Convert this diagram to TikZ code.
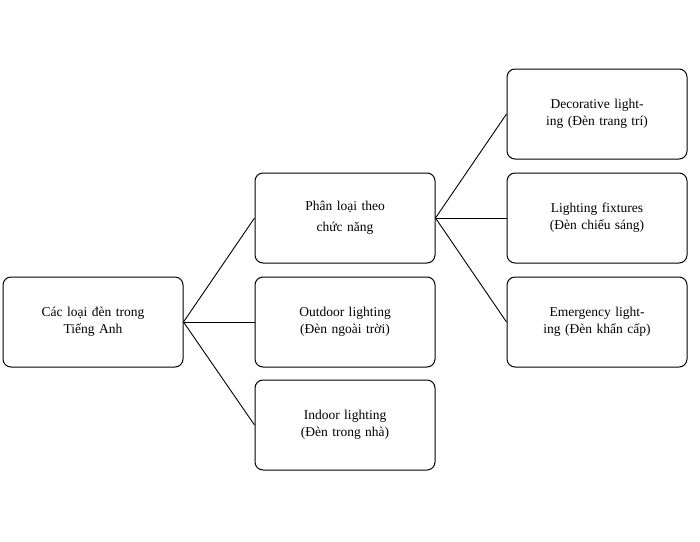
\documentclass[tikz,border=0pt]{standalone}
\usepackage{fontspec}
\setmainfont{Liberation Serif}
\begin{document}
\begin{tikzpicture}[x=1pt,y=-1pt,
  box/.style={draw,line width=1pt,rounded corners=8pt,minimum width=180pt,minimum height=90pt,text width=172pt,align=center,font=\fontsize{13.5}{17}\selectfont,inner sep=2pt},
  conn/.style={line width=0.9pt}]
\useasboundingbox (0,0) rectangle (700,541);
\node[box] (root) at (93,322) {Các loại đèn trong\\Tiếng Anh};
\node[box] (func) at (345,218) {Phân loại theo\\[4pt]chức năng};
\node[box] (out) at (345,322) {Outdoor lighting (Đèn ngoài trời)};
\node[box] (in) at (345,425) {Indoor lighting (Đèn trong nhà)};
\node[box] (dec) at (597,114) {Decorative lighting (Đèn trang trí)};
\node[box] (fix) at (597,218) {Lighting fixtures (Đèn chiếu sáng)};
\node[box] (eme) at (597,322) {Emergency lighting (Đèn khẩn cấp)};
\foreach \t in {func,out,in} \draw[conn] (root.east) -- (\t.west);
\foreach \t in {dec,fix,eme} \draw[conn] (func.east) -- (\t.west);
\end{tikzpicture}
\end{document}
